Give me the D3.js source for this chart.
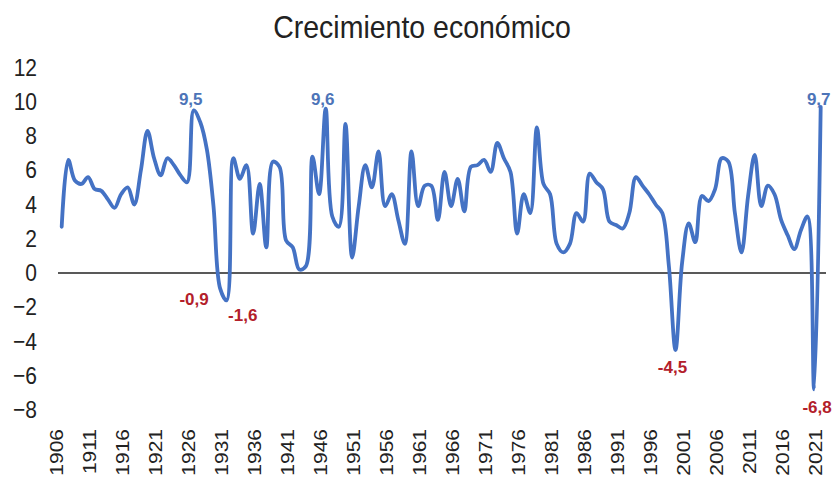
<!DOCTYPE html>
<html>
<head>
<meta charset="utf-8">
<script src="https://cdn.jsdelivr.net/npm/d3@7"></script>
<style>
  body { margin: 0; background: #fff; }
  text { font-family: "Liberation Sans", Arial, sans-serif; }
</style>
</head>
<body>
<div id="chart"></div>
<script>
// Data (annual GDP growth, %)
const years = d3.range(1906, 2022);
const growth = [
  2.7, 6.6, 5.4, 5.2, 5.6, 4.9, 4.8, 4.3, 3.8, 4.6,   // 1906-1915
  5.0, 4.0, 6.0, 8.3, 6.7, 5.7, 6.7, 6.3, 5.7, 5.3,   // 1916-1925
  9.5, 8.8, 7.2, 3.9, -0.9, -1.6, 6.7, 5.5, 6.3, 2.3, // 1926-1935
  5.2, 1.5, 6.5, 6.2, 1.9, 1.5, 0.2, 0.4, 6.8, 4.6,   // 1936-1945
  9.6, 3.3, 2.7, 8.7, 0.9, 3.9, 6.3, 5.0, 7.1, 3.9,   // 1946-1955
  4.6, 3.1, 1.7, 7.1, 3.9, 5.1, 5.1, 3.1, 5.9, 3.9,   // 1956-1965
  5.5, 3.6, 6.2, 6.3, 6.6, 5.9, 7.6, 6.7, 5.9, 2.3,   // 1966-1975
  4.6, 3.5, 8.5, 5.2, 4.6, 1.7, 1.2, 1.7, 3.5, 3.0,   // 1976-1985
  5.8, 5.3, 4.9, 3.0, 2.8, 2.6, 3.5, 5.6, 5.1, 4.6,   // 1986-1995
  4.0, 3.5, 0.4, -4.5, 0.6, 2.9, 1.8, 4.5, 4.2, 4.9,  // 1996-2005
  6.7, 6.5, 3.5, 1.2, 4.5, 6.9, 3.9, 5.1, 4.6, 3.1,   // 2006-2015
  2.2, 1.4, 2.5, 3.3, -6.8, 9.7                       // 2016-2021
];
const yTicks = [-8, -6, -4, -2, 0, 2, 4, 6, 8, 10, 12];
const xTickYears = d3.range(1906, 2022, 5);
const highYears = [1926, 1946, 2021];
const lowYears = [1930, 1931, 1999, 2020];
const title = "Crecimiento económico";

const data = years.map((yr, i) => ({ year: yr, value: growth[i] }));

const W = 836, H = 479;
const svg = d3.select("#chart").append("svg")
  .attr("width", W).attr("height", H);

const x = d3.scaleLinear().domain([1906, 2021]).range([61.7, 820.7]);
const y = d3.scaleLinear().domain([-8, 12]).range([410, 67.5]);

// title
svg.append("text")
  .attr("transform", "translate(422,38) scale(1,1.1)")
  .attr("text-anchor", "middle")
  .attr("font-size", 28.5)
  .attr("fill", "#222")
  .text(title);

// y axis labels (no axis line)
const yAxis = svg.append("g")
  .attr("transform", "translate(40,0)")
  .call(d3.axisLeft(y).tickValues(yTicks).tickSize(0).tickPadding(3));
yAxis.select(".domain").remove();
yAxis.selectAll(".tick text")
  .attr("font-size", 21)
  .attr("fill", "#222")
  .attr("font-family", "Liberation Sans, Arial, sans-serif")
  .attr("transform", "scale(1,1.15)");

// x axis labels (rotated years)
const xAxis = svg.append("g")
  .attr("transform", "translate(0,429)")
  .call(d3.axisBottom(x).tickValues(xTickYears).tickSize(0).tickFormat(d3.format("d")));
xAxis.select(".domain").remove();
xAxis.selectAll(".tick text")
  .attr("font-size", 17.5)
  .attr("fill", "#222")
  .attr("font-family", "Liberation Sans, Arial, sans-serif")
  .attr("text-anchor", "end")
  .attr("x", 0).attr("y", 0)
  .attr("dy", "0.34em")
  .attr("transform", "translate(-5,0) scale(1,1.2) rotate(-90)");

// zero line
svg.append("line")
  .attr("x1", 58).attr("x2", 826)
  .attr("y1", y(0)).attr("y2", y(0))
  .attr("stroke", "#222").attr("stroke-width", 1.5);

// growth line
svg.append("path")
  .datum(data)
  .attr("fill", "none")
  .attr("stroke", "#4472C4")
  .attr("stroke-width", 3.8)
  .attr("stroke-linejoin", "round")
  .attr("stroke-linecap", "round")
  .attr("d", d3.line()
    .x(d => x(d.year))
    .y(d => y(d.value))
    .curve(d3.curveCatmullRom.alpha(0.5)));

// value labels
const fmt = v => v.toFixed(1).replace(".", ",");
const labelOffset = {
  1926: [-3, -5], 1946: [-3, -4], 2021: [-2, -2],
  1930: [-26, 17], 1931: [16, 21], 1999: [-3, 23], 2020: [3, 24]
};
function addLabels(list, color) {
  svg.append("g").selectAll("text")
    .data(data.filter(d => list.includes(d.year)))
    .join("text")
      .attr("x", d => x(d.year) + labelOffset[d.year][0])
      .attr("y", d => y(d.value) + labelOffset[d.year][1])
      .attr("text-anchor", "middle")
      .attr("font-size", 17)
      .attr("font-weight", "bold")
      .attr("fill", color)
      .text(d => fmt(d.value));
}
addLabels(highYears, "#4d74b8");
addLabels(lowYears, "#b3202a");
</script>
</body>
</html>
